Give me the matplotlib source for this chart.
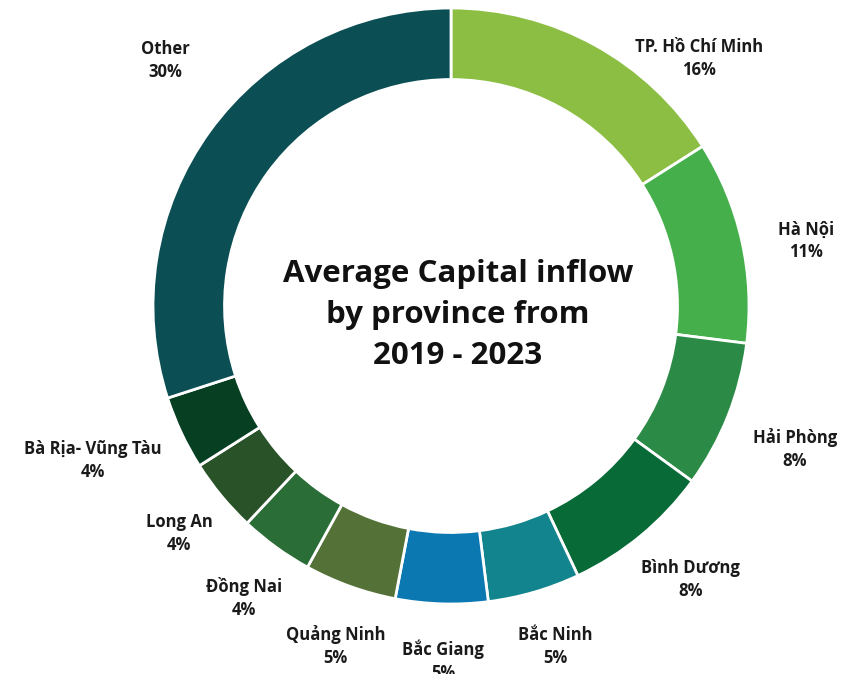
import numpy as np
import matplotlib
matplotlib.use("Agg")
import matplotlib.pyplot as plt

provinces = ["TP. Hồ Chí Minh", "Hà Nội", "Hải Phòng", "Bình Dương", "Bắc Ninh",
             "Bắc Giang", "Quảng Ninh", "Đồng Nai", "Long An", "Bà Rịa- Vũng Tàu", "Other"]
shares = [16, 11, 8, 8, 5, 5, 5, 4, 4, 4, 30]
colors = ["#8BBE43", "#45B04B", "#2B8A45", "#076A37", "#12848E", "#0B78B2",
          "#547237", "#2B6D36", "#2A5229", "#063F22", "#0B4F55"]

# label anchor (angle clockwise from top in degrees, radius in units of the outer radius)
label_pos = [(45, 1.175), (79.6, 1.21), (112.6, 1.25), (138.8, 1.22), (163, 1.195),
             (181.3, 1.19), (198.8, 1.205), (215.3, 1.2), (230, 1.19), (246.7, 1.31),
             (310.7, 1.265)]

plt.rcParams["font.family"] = ["Open Sans", "DejaVu Sans"]

W, H = 845, 674
cx, cy, R = 451, 306, 298  # donut centre / radius in pixels

fig = plt.figure(figsize=(W / 100, H / 100), dpi=100)
ax = fig.add_axes([0, 0, 1, 1])

ax.pie(shares, colors=colors, startangle=90, counterclock=False, radius=1,
       wedgeprops=dict(width=0.24, edgecolor="white", linewidth=2))

ax.set_xlim(-cx / R, (W - cx) / R)
ax.set_ylim(-(H - cy) / R, cy / R)
ax.set_aspect("equal")
ax.axis("off")

for name, val, (a, r) in zip(provinces, shares, label_pos):
    t = np.deg2rad(a)
    x, y = r * np.sin(t), r * np.cos(t)
    ax.text(x, y, f"{name}\n{val}%", ha="center", va="center", fontsize=12,
            fontweight="bold", color="#1a1a1a", linespacing=1.35)

ax.text((458 - cx) / R, (cy - 315) / R,
        "Average Capital inflow\nby province from\n2019 - 2023",
        ha="center", va="center", fontsize=22.5, fontweight="bold",
        color="#111111", linespacing=1.48)

fig.savefig("out.png", dpi=100)
